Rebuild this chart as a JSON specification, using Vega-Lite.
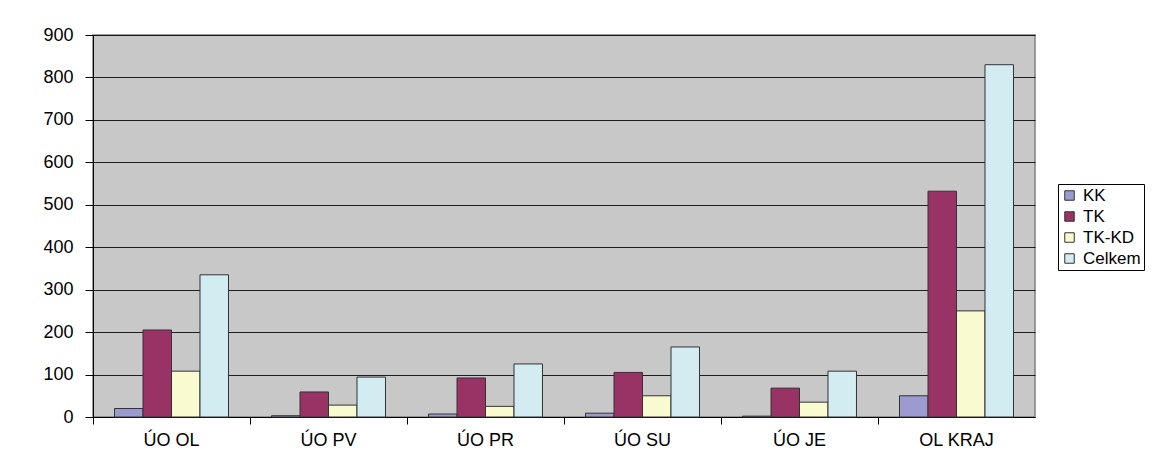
{
  "$schema": "https://vega.github.io/schema/vega-lite/v6.json",
  "autosize": "none",
  "width": 942,
  "height": 382,
  "padding": {"left": 93, "top": 35, "right": 139, "bottom": 35},
  "background": "white",
  "data": {"values": [
    {"oblast": "ÚO OL", "serie": "KK", "hodnota": 20},
    {"oblast": "ÚO OL", "serie": "TK", "hodnota": 205},
    {"oblast": "ÚO OL", "serie": "TK-KD", "hodnota": 108},
    {"oblast": "ÚO OL", "serie": "Celkem", "hodnota": 335},
    {"oblast": "ÚO PV", "serie": "KK", "hodnota": 3},
    {"oblast": "ÚO PV", "serie": "TK", "hodnota": 59},
    {"oblast": "ÚO PV", "serie": "TK-KD", "hodnota": 28},
    {"oblast": "ÚO PV", "serie": "Celkem", "hodnota": 94},
    {"oblast": "ÚO PR", "serie": "KK", "hodnota": 7},
    {"oblast": "ÚO PR", "serie": "TK", "hodnota": 92},
    {"oblast": "ÚO PR", "serie": "TK-KD", "hodnota": 25},
    {"oblast": "ÚO PR", "serie": "Celkem", "hodnota": 125},
    {"oblast": "ÚO SU", "serie": "KK", "hodnota": 9},
    {"oblast": "ÚO SU", "serie": "TK", "hodnota": 105},
    {"oblast": "ÚO SU", "serie": "TK-KD", "hodnota": 50},
    {"oblast": "ÚO SU", "serie": "Celkem", "hodnota": 165},
    {"oblast": "ÚO JE", "serie": "KK", "hodnota": 2},
    {"oblast": "ÚO JE", "serie": "TK", "hodnota": 68},
    {"oblast": "ÚO JE", "serie": "TK-KD", "hodnota": 35},
    {"oblast": "ÚO JE", "serie": "Celkem", "hodnota": 108},
    {"oblast": "OL KRAJ", "serie": "KK", "hodnota": 50},
    {"oblast": "OL KRAJ", "serie": "TK", "hodnota": 532},
    {"oblast": "OL KRAJ", "serie": "TK-KD", "hodnota": 250},
    {"oblast": "OL KRAJ", "serie": "Celkem", "hodnota": 830}
  ]},
  "mark": {"type": "bar", "stroke": "#333333", "strokeWidth": 1},
  "encoding": {
    "x": {
      "field": "oblast", "type": "nominal",
      "sort": ["ÚO OL", "ÚO PV", "ÚO PR", "ÚO SU", "ÚO JE", "OL KRAJ"],
      "scale": {"paddingInner": 0, "paddingOuter": 0},
      "axis": {
        "title": null, "labelAngle": 0, "bandPosition": 0,
        "labelFont": "Liberation Sans", "labelFontSize": 18, "labelColor": "#000000",
        "labelPadding": 7, "tickSize": 7, "tickColor": "#000000",
        "domainColor": "#000000", "grid": false
      }
    },
    "xOffset": {
      "field": "serie", "type": "nominal",
      "sort": ["KK", "TK", "TK-KD", "Celkem"],
      "scale": {"paddingInner": 0, "paddingOuter": 0.755}
    },
    "y": {
      "field": "hodnota", "type": "quantitative",
      "scale": {"domain": [0, 900], "nice": false},
      "axis": {
        "title": null, "values": [0, 100, 200, 300, 400, 500, 600, 700, 800, 900],
        "labelFont": "Liberation Sans", "labelFontSize": 18, "labelColor": "#000000",
        "labelPadding": 12, "tickSize": 8, "tickColor": "#000000",
        "domainColor": "#000000", "grid": true, "gridColor": "#000000",
        "gridOpacity": 0.85
      }
    },
    "color": {
      "field": "serie", "type": "nominal",
      "sort": ["KK", "TK", "TK-KD", "Celkem"],
      "scale": {
        "domain": ["KK", "TK", "TK-KD", "Celkem"],
        "range": ["#9b9bd0", "#993366", "#fafad0", "#d3ecf2"]
      },
      "legend": {
        "title": null, "orient": "none", "legendX": 965, "legendY": 149,
        "symbolType": "square", "symbolSize": 90, "symbolStrokeColor": "#333333",
        "symbolStrokeWidth": 1, "symbolOpacity": 1,
        "labelFont": "Liberation Sans", "labelFontSize": 17, "labelColor": "#000000",
        "rowPadding": 3, "labelOffset": 5,
        "strokeColor": "#000000", "padding": 3
      }
    }
  },
  "config": {
    "view": {"fill": "#c8c8c8", "stroke": "#808080", "strokeWidth": 1.5}
  }
}
